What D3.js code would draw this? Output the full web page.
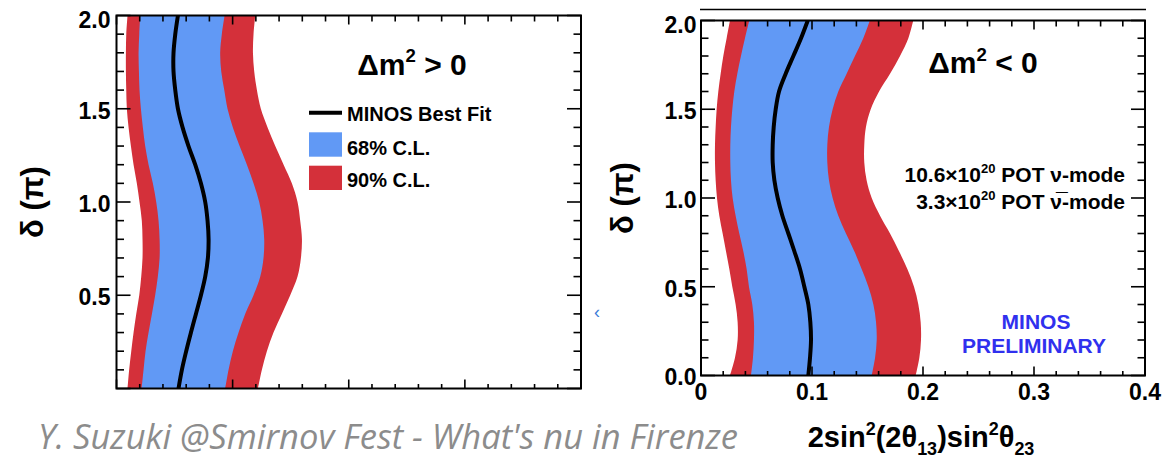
<!DOCTYPE html>
<html>
<head>
<meta charset="utf-8">
<script src="https://cdn.jsdelivr.net/npm/d3@7"></script>
<style>
  body { margin: 0; background: #fff; }
  svg { display: block; }
  text { font-family: "Liberation Sans", Arial, Helvetica, sans-serif; font-weight: bold; fill: #000; }
</style>
</head>
<body>
<svg id="chart" width="1166" height="461"></svg>
<script>
// CP phase (units of pi) at which each contour crossing was sampled
const delta = [0.0, 0.1, 0.2, 0.3, 0.4, 0.5, 0.6, 0.7, 0.8, 0.9, 1.0,
               1.1, 1.2, 1.3, 1.4, 1.5, 1.6, 1.7, 1.8, 1.9, 2.0];

// Normal hierarchy (dm2 > 0): 2 sin^2(2 theta13) sin^2(theta23)
const normRed90Lo  = [0.0095,0.0109,0.0127,0.0147,0.0170,0.0196,0.0213,0.0224,0.0224,0.0218,0.0198,0.0175,0.0147,0.0124,0.0104,0.0089,0.0084,0.0081,0.0081,0.0084,0.0095];
const normBlue68Lo = [0.0216,0.0233,0.0250,0.0276,0.0305,0.0333,0.0356,0.0371,0.0371,0.0362,0.0342,0.0313,0.0276,0.0247,0.0227,0.0210,0.0198,0.0193,0.0190,0.0196,0.0204];
const normBest     = [0.0534,0.0563,0.0600,0.0641,0.0684,0.0727,0.0764,0.0787,0.0793,0.0784,0.0764,0.0727,0.0678,0.0620,0.0569,0.0529,0.0506,0.0491,0.0491,0.0506,0.0529];
const normBlue68Hi = [0.0936,0.0965,0.1002,0.1051,0.1108,0.1180,0.1238,0.1266,0.1272,0.1258,0.1229,0.1180,0.1123,0.1060,0.1002,0.0956,0.0928,0.0902,0.0893,0.0907,0.0931];
const normRed90Hi  = [0.1218,0.1252,0.1295,0.1352,0.1424,0.1496,0.1559,0.1588,0.1597,0.1582,0.1559,0.1510,0.1439,0.1367,0.1301,0.1243,0.1209,0.1186,0.1175,0.1180,0.1195];

// Inverted hierarchy (dm2 < 0)
const invRed90Lo  = [0.0261,0.0306,0.0330,0.0330,0.0312,0.0282,0.0255,0.0225,0.0195,0.0165,0.0144,0.0132,0.0126,0.0126,0.0132,0.0141,0.0156,0.0177,0.0201,0.0231,0.0261];
const invBlue68Lo = [0.0450,0.0468,0.0477,0.0477,0.0462,0.0432,0.0411,0.0381,0.0345,0.0312,0.0285,0.0270,0.0264,0.0264,0.0270,0.0282,0.0300,0.0327,0.0360,0.0396,0.0435];
const invBest     = [0.0967,0.0982,0.0991,0.0985,0.0967,0.0931,0.0892,0.0841,0.0787,0.0733,0.0691,0.0661,0.0646,0.0646,0.0655,0.0673,0.0703,0.0763,0.0832,0.0901,0.0962];
const invBlue68Hi = [0.1538,0.1568,0.1583,0.1577,0.1553,0.1508,0.1447,0.1381,0.1306,0.1237,0.1186,0.1153,0.1138,0.1138,0.1153,0.1186,0.1237,0.1312,0.1387,0.1462,0.1521];
const invRed90Hi  = [0.1934,0.1967,0.1982,0.1979,0.1958,0.1919,0.1859,0.1784,0.1703,0.1613,0.1538,0.1492,0.1471,0.1471,0.1486,0.1529,0.1604,0.1703,0.1793,0.1868,0.1912];

// Axis ticks
const xMajorTicks = [0, 0.1, 0.2, 0.3, 0.4];
const xTickLabels = ["0", "0.1", "0.2", "0.3", "0.4"];
const yMajorTicks = [0, 0.5, 1.0, 1.5, 2.0];
const yTickLabelsNorm = ["", "0.5", "1.0", "1.5", "2.0"];
const yTickLabelsInv  = ["0.0", "0.5", "1.0", "1.5", "2.0"];
const legendLabels = ["MINOS Best Fit", "68% C.L.", "90% C.L."];

const RED = "#d4303a", BLUE = "#6199f5";

const svg = d3.select("#chart");
const defs = svg.append("defs");

// Rich text helper: parts are [string, "n" | "sup" | "sub"]
function richText(sel, parts, size) {
  let shift = 0;
  parts.forEach(([s, kind]) => {
    const target = kind === "sup" ? -0.42 * size : kind === "sub" ? 0.28 * size : 0;
    sel.append("tspan")
      .attr("dy", target - shift)
      .attr("font-size", kind === "n" ? size : size * 0.62)
      .text(s);
    shift = target;
  });
}

function drawPanel(id, cfg) {
  const x = d3.scaleLinear().domain([0, 0.4]).range(cfg.xRange);
  const y = d3.scaleLinear().domain([0, 2]).range(cfg.yRange);
  const [x0, x1] = x.range();
  const [yb, yt] = y.range();
  const g = svg.append("g");

  defs.append("clipPath").attr("id", id)
    .append("rect").attr("x", x0).attr("y", yt).attr("width", x1 - x0).attr("height", yb - yt);

  const plot = g.append("g").attr("clip-path", `url(#${id})`);
  const band = (lo, hi) => delta.map((d, i) => ({ d, lo: lo[i], hi: hi[i] }));
  const area = d3.area().curve(d3.curveCatmullRom.alpha(0.5))
    .y(p => y(p.d)).x0(p => x(p.lo)).x1(p => x(p.hi));

  plot.append("path").datum(band(cfg.redLo, cfg.redHi)).attr("d", area).attr("fill", RED);
  plot.append("path").datum(band(cfg.blueLo, cfg.blueHi)).attr("d", area).attr("fill", BLUE);

  const line = d3.line().curve(d3.curveCatmullRom.alpha(0.5))
    .x(p => x(p.v)).y(p => y(p.d));
  plot.append("path").datum(delta.map((d, i) => ({ d, v: cfg.best[i] })))
    .attr("d", line).attr("fill", "none").attr("stroke", "#000").attr("stroke-width", 4);

  // Ticks on all four sides, pointing inward
  const ticks = g.append("g").attr("stroke", "#000").attr("stroke-width", 1.6);
  d3.range(0, 20.5).map(k => k * 0.02).forEach((v, k) => {
    const major = k % 5 === 0;
    const px = x(v);
    ticks.append("line").attr("x1", px).attr("x2", px).attr("y1", yb).attr("y2", yb - (major ? 9 : 4.5));
    ticks.append("line").attr("x1", px).attr("x2", px).attr("y1", yt).attr("y2", yt + (major ? 9 : 6));
  });
  d3.range(0, 20.5).map(k => k * 0.1).forEach((v, k) => {
    const major = k % 5 === 0;
    const py = y(v);
    const len = major ? 14 : 7.5;
    ticks.append("line").attr("x1", x0).attr("x2", x0 + len).attr("y1", py).attr("y2", py);
    ticks.append("line").attr("x1", x1).attr("x2", x1 - len).attr("y1", py).attr("y2", py);
  });

  g.append("rect").attr("x", x0).attr("y", yt).attr("width", x1 - x0).attr("height", yb - yt)
    .attr("fill", "none").attr("stroke", "#000").attr("stroke-width", 2);

  // Y tick labels
  yMajorTicks.forEach((v, i) => {
    if (!cfg.yLabels[i]) return;
    g.append("text")
      .attr("x", x0 - cfg.yLabelGap)
      .attr("y", y(v) + (v === 2 ? 4 : 1.5))
      .attr("dy", "0.36em")
      .attr("text-anchor", "end")
      .attr("font-size", 23)
      .text(cfg.yLabels[i]);
  });

  // X tick labels
  if (cfg.xLabels) {
    xMajorTicks.forEach((v, i) => {
      g.append("text")
        .attr("x", x(v))
        .attr("y", 400)
        .attr("text-anchor", "middle")
        .attr("font-size", 23)
        .text(cfg.xLabels[i]);
    });
  }

  // Y axis title
  g.append("text")
    .attr("transform", `translate(${cfg.yTitleX},${(yb + yt) / 2}) rotate(-90)`)
    .attr("text-anchor", "middle")
    .attr("font-size", 31)
    .text("\u03b4 (\u03c0)");

  // Hierarchy label
  const t = g.append("text")
    .attr("x", cfg.titleX).attr("y", cfg.titleY)
    .attr("text-anchor", "middle");
  richText(t, [["\u0394m", "n"], ["2", "sup"], [cfg.sign, "n"]], 30);

  return { g, x, y };
}

// Normal hierarchy panel
const left = drawPanel("clipNorm", {
  xRange: [116.5, 581], yRange: [388.5, 15.5],
  redLo: normRed90Lo, redHi: normRed90Hi, blueLo: normBlue68Lo, blueHi: normBlue68Hi, best: normBest,
  yLabels: yTickLabelsNorm, yLabelGap: 6, xLabels: null, yTitleX: 43,
  titleX: 412, titleY: 75, sign: " > 0"
});

// Legend
const lg = left.g.append("g");
lg.append("line").attr("x1", 309).attr("x2", 342).attr("y1", 112.7).attr("y2", 112.7)
  .attr("stroke", "#000").attr("stroke-width", 4);
lg.append("rect").attr("x", 309).attr("y", 132.3).attr("width", 33).attr("height", 24.4).attr("fill", BLUE);
lg.append("rect").attr("x", 309).attr("y", 165.7).attr("width", 33).attr("height", 24.3).attr("fill", RED);
[120.7, 155, 187.3].forEach((by, i) => {
  lg.append("text").attr("x", 347).attr("y", by).attr("font-size", 20).text(legendLabels[i]);
});

// Inverted hierarchy panel
const right = drawPanel("clipInv", {
  xRange: [701, 1145], yRange: [375.5, 20.5],
  redLo: invRed90Lo, redHi: invRed90Hi, blueLo: invBlue68Lo, blueHi: invBlue68Hi, best: invBest,
  yLabels: yTickLabelsInv, yLabelGap: 4.5, xLabels: xTickLabels, yTitleX: 633,
  titleX: 983, titleY: 73.3, sign: " < 0"
});

// Rule above the inverted-hierarchy frame
svg.append("line").attr("x1", 700).attr("x2", 1146).attr("y1", 9.5).attr("y2", 9.5)
  .attr("stroke", "#000").attr("stroke-width", 1.5);

// Exposure annotation
const pot1 = svg.append("text").attr("x", 1125).attr("y", 181.7).attr("text-anchor", "end");
richText(pot1, [["10.6\u00d710", "n"], ["20", "sup"], [" POT \u03bd-mode", "n"]], 21);
const pot2 = svg.append("text").attr("x", 1125).attr("y", 209.3).attr("text-anchor", "end");
richText(pot2, [["3.3\u00d710", "n"], ["20", "sup"], [" POT \u03bd\u0305-mode", "n"]], 21);

// Preliminary tag
svg.append("text").attr("x", 1036).attr("y", 329).attr("text-anchor", "middle")
  .attr("font-size", 21).style("fill", "#3030ee").text("MINOS");
svg.append("text").attr("x", 1034).attr("y", 352.7).attr("text-anchor", "middle")
  .attr("font-size", 21).style("fill", "#3030ee").text("PRELIMINARY");

// X axis title
const xt = svg.append("text").attr("x", 921).attr("y", 447).attr("text-anchor", "middle");
richText(xt, [["2sin", "n"], ["2", "sup"], ["(2\u03b8", "n"], ["13", "sub"], [")sin", "n"],
              ["2", "sup"], ["\u03b8", "n"], ["23", "sub"]], 29);

// Slide footer
const cap = svg.append("text").attr("x", 38).attr("y", 449)
  .style("font-family", "'Open Sans', 'Liberation Sans', sans-serif")
  .style("font-weight", "normal").style("font-style", "italic").style("fill", "#8c8c8c")
  .attr("font-size", 28)
  .text("Y. Suzuki @Smirnov Fest - What's nu in Firenze");
const w = cap.node().getComputedTextLength();
cap.attr("font-size", 28 * 700 / w);

// Small stray mark between the panels
svg.append("text").attr("x", 594).attr("y", 318).attr("font-size", 18)
  .style("fill", "#3b7dd8").style("font-weight", "normal").text("\u2039");
</script>
</body>
</html>
